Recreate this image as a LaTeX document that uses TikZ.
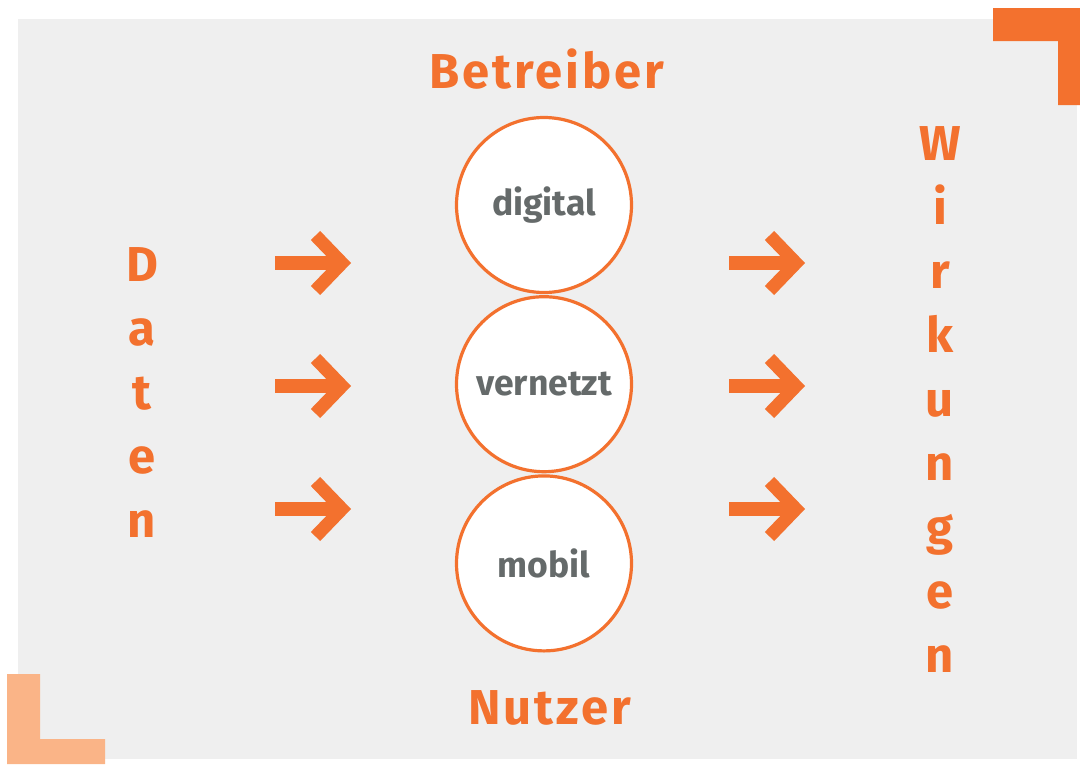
\documentclass[tikz,border=0pt]{standalone}
\usepackage{fontspec}
\setmainfont{Fira Sans}
\newfontfamily\sperrfont[LetterSpace=6]{Fira Sans}
\usetikzlibrary{positioning}
\definecolor{orange1}{HTML}{F3712E}
\definecolor{orange2}{HTML}{FAB487}
\definecolor{grau}{HTML}{EFEFEF}
\definecolor{textgrau}{HTML}{656A6A}

\begin{document}
\begin{tikzpicture}[x=1pt,y=-1pt,
  kreis/.style={circle,draw=orange1,line width=3.2pt,fill=white,minimum size=175pt,inner sep=0pt,
    text=textgrau,font=\bfseries\fontsize{35.5}{40}\selectfont},
  label/.style={text=orange1,font=\sperrfont\bfseries\fontsize{49}{64}\selectfont,inner sep=0pt,anchor=base},
  spalte/.style={text=orange1,font=\bfseries\fontsize{49}{64}\selectfont,align=center,inner sep=0pt,anchor=base},
  pfeil/.pic={
    \draw[orange1,line width=14.5pt] (-76,0) -- (-12,0);
    \draw[orange1,line width=13pt,miter limit=4] (-35.5,-27.5) -- (-9,0) -- (-35.5,27.5);
  },
  node distance=1pt]
\useasboundingbox (0,0) rectangle (1080,764);
\fill[white] (0,0) rectangle (1080,764);
\fill[grau] (18,19) rectangle (1077,759);
% Ecken
\fill[orange1] (993,8) -- (1080,8) -- (1080,105) -- (1058,105) -- (1058,41) -- (993,41) -- cycle;
\fill[orange2] (7,674) -- (40,674) -- (40,739) -- (105,739) -- (105,764) -- (7,764) -- cycle;
% Kreise
\node[kreis] (digital) at (544,205) {digital};
\node[kreis,below=of digital] (vernetzt) {vernetzt};
\node[kreis,below=of vernetzt] (mobil) {mobil};
\node[label] (betreiber) at (547,88) {Betreiber};
\node[label] (nutzer) at (550,724) {Nutzer};
\node[spalte] (daten) at (142,537) {D\\a\\t\\e\\n};
\node[spalte] (wirkungen) at (940,672) {W\\i\\r\\k\\u\\n\\g\\e\\n};
% Pfeile
\foreach \y in {263,386,509} {
  \pic at (351,\y) {pfeil};
  \pic at (805,\y) {pfeil};
}
\end{tikzpicture}
\end{document}
